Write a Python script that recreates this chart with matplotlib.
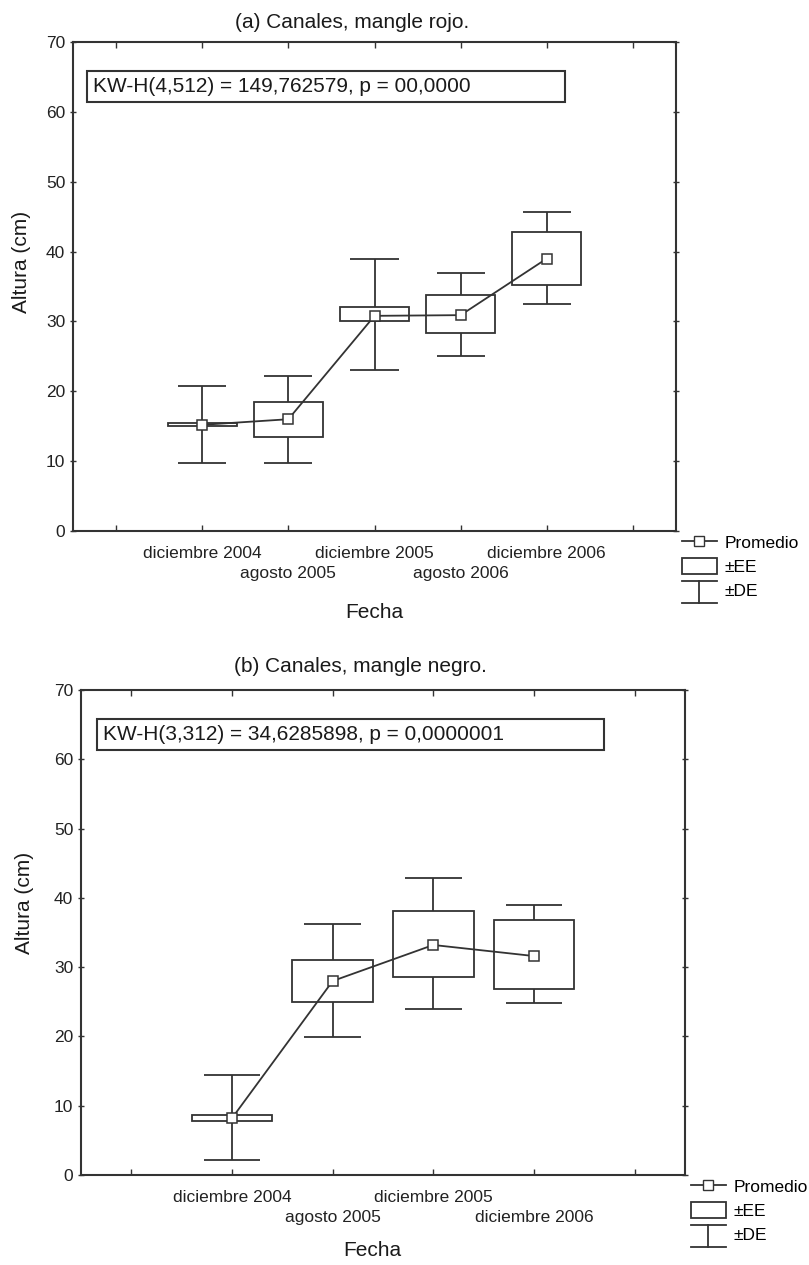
import matplotlib
matplotlib.use('Agg')
import matplotlib.pyplot as plt
import matplotlib.patches as patches
from matplotlib.lines import Line2D
from matplotlib.legend_handler import HandlerBase

plt.rcParams['font.family'] = ['Liberation Sans', 'DejaVu Sans']

# panel (a): canales, mangle rojo
fechas_a = ['diciembre 2004', 'agosto 2005', 'diciembre 2005', 'agosto 2006', 'diciembre 2006']
media_a = [15.2, 16.0, 30.8, 30.9, 39.0]
ee_inf_a = [15.0, 13.5, 30.0, 28.3, 35.2]
ee_sup_a = [15.5, 18.5, 32.0, 33.8, 42.8]
de_inf_a = [9.8, 9.8, 23.0, 25.0, 32.5]
de_sup_a = [20.8, 22.2, 38.9, 37.0, 45.6]
texto_a = 'KW-H(4,512) = 149,762579, p = 00,0000'

# panel (b): canales, mangle negro
fechas_b = ['diciembre 2004', 'agosto 2005', 'diciembre 2005', 'diciembre 2006']
media_b = [8.2, 28.0, 33.2, 31.6]
ee_inf_b = [7.8, 25.0, 28.6, 26.8]
ee_sup_b = [8.6, 31.1, 38.1, 36.8]
de_inf_b = [2.2, 19.9, 24.0, 24.8]
de_sup_b = [14.5, 36.2, 42.9, 38.9]
texto_b = 'KW-H(3,312) = 34,6285898, p = 0,0000001'

col = '#333333'
lw = 1.3


class HandlerDE(HandlerBase):
    # simbolo de barra de error (tapa arriba, linea, tapa abajo)
    def create_artists(self, legend, orig_handle, xdescent, ydescent,
                       width, height, fontsize, trans):
        x0, x1 = -xdescent, -xdescent + width
        y0, y1 = -ydescent - 0.3 * height, -ydescent + 1.05 * height
        xm = (x0 + x1) / 2
        arts = [Line2D([x0, x1], [y1, y1]), Line2D([xm, xm], [y0, y1]),
                Line2D([x0, x1], [y0, y0])]
        for a in arts:
            a.set_color(col)
            a.set_linewidth(lw)
            a.set_transform(trans)
        return arts


def draw_panel(ax, fechas, media, ee_inf, ee_sup, de_inf, de_sup, texto, caja_x):
    n = len(fechas)
    xs = list(range(1, n + 1))
    for x, a, b, c, d in zip(xs, ee_inf, ee_sup, de_inf, de_sup):
        ax.vlines(x, c, d, color=col, lw=lw, zorder=2)
        ax.hlines([c, d], x - 0.28, x + 0.28, color=col, lw=lw, zorder=2)
        ax.add_patch(patches.Rectangle((x - 0.4, a), 0.8, b - a, facecolor='white',
                                       edgecolor=col, lw=lw, zorder=3))
    ax.plot(xs, media, color=col, lw=lw, marker='s', markersize=6.5,
            markerfacecolor='white', markeredgecolor=col, markeredgewidth=1.1, zorder=4)

    ax.set_xlim(-0.5, n + 1.5)
    ax.set_ylim(0, 70)
    # etiquetas escalonadas: fila 1 en ticks mayores, fila 2 en menores
    fila1 = [0] + xs[0::2] + [n + 1]
    fila2 = xs[1::2]
    ax.set_xticks(fila1)
    ax.set_xticklabels([''] + fechas[0::2] + [''])
    ax.set_xticks(fila2, minor=True)
    ax.set_xticklabels(fechas[1::2], minor=True)
    ax.set_yticks(range(0, 71, 10))
    ax.tick_params(axis='x', which='both', direction='in', top=True, length=4, width=1,
                   color=col, labelsize=12.5, labelcolor='#222222')
    ax.tick_params(axis='x', which='major', pad=11)
    ax.tick_params(axis='x', which='minor', pad=25.5)
    ax.tick_params(axis='y', direction='inout', right=True, length=5, width=1, color=col,
                   labelsize=12.5, labelcolor='#222222', pad=3)
    for s in ax.spines.values():
        s.set_color(col)
        s.set_linewidth(1.5)

    ax.add_patch(patches.Rectangle((caja_x[0], 0.877), caja_x[1] - caja_x[0], 0.064,
                                   transform=ax.transAxes, facecolor='white',
                                   edgecolor=col, lw=1.5, zorder=5))
    ax.text(caja_x[0] + 0.01, 0.909, texto, transform=ax.transAxes, fontsize=15,
            va='center', ha='left', color='#1a1a1a', zorder=6)

    handles = [Line2D([], [], color=col, lw=lw, marker='s', markersize=6.5,
                      markerfacecolor='white', markeredgecolor=col),
               patches.Patch(facecolor='white', edgecolor=col, lw=lw),
               Line2D([], [])]
    ax.legend(handles, ['Promedio', '\u00b1EE', '\u00b1DE'],
              handler_map={handles[2]: HandlerDE()},
              loc='upper left', bbox_to_anchor=(1.01, -0.005), frameon=False,
              fontsize=12.5, handlelength=2.0, handleheight=1.1, handletextpad=0.45,
              labelspacing=0.4, borderaxespad=0, borderpad=0, numpoints=1)


fig = plt.figure(figsize=(8.09, 12.65), dpi=100)
ax1 = fig.add_axes([73 / 809, 1 - 531 / 1265, 603 / 809, 489 / 1265])
ax2 = fig.add_axes([81 / 809, 1 - 1175 / 1265, 604 / 809, 485 / 1265])

draw_panel(ax1, fechas_a, media_a, ee_inf_a, ee_sup_a, de_inf_a, de_sup_a, texto_a, (0.023, 0.816))
draw_panel(ax2, fechas_b, media_b, ee_inf_b, ee_sup_b, de_inf_b, de_sup_b, texto_b, (0.026, 0.866))

fig.text(352 / 809, 1 - 22 / 1265, '(a) Canales, mangle rojo.', ha='center', va='center',
         fontsize=15, color='#1a1a1a')
fig.text(360 / 809, 1 - 667 / 1265, '(b) Canales, mangle negro.', ha='center', va='center',
         fontsize=15, color='#1a1a1a')
fig.text(22 / 809, 1 - 262 / 1265, 'Altura (cm)', rotation=90, ha='center', va='center',
         fontsize=15, color='#1a1a1a')
fig.text(24 / 809, 1 - 903 / 1265, 'Altura (cm)', rotation=90, ha='center', va='center',
         fontsize=15, color='#1a1a1a')
fig.text(374 / 809, 1 - 612 / 1265, 'Fecha', ha='center', va='center', fontsize=15, color='#1a1a1a')
fig.text(372 / 809, 1 - 1250 / 1265, 'Fecha', ha='center', va='center', fontsize=15, color='#1a1a1a')

fig.savefig('out.png', dpi=100, facecolor='white')
